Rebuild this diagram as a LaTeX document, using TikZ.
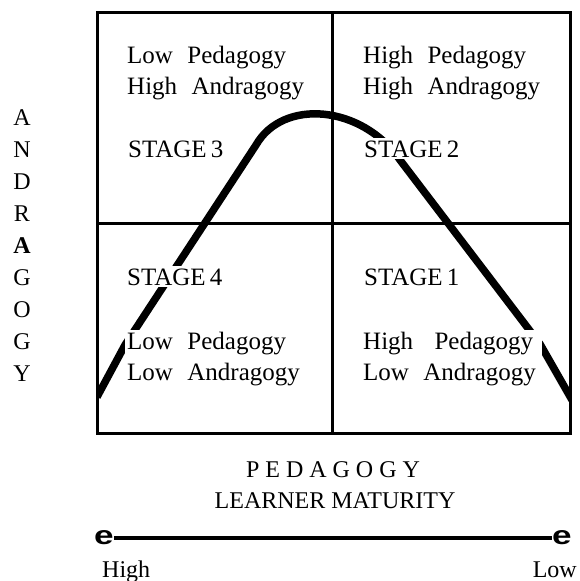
\documentclass[tikz,border=0pt]{standalone}
\usepackage{fontspec}
\setmainfont{Liberation Serif}
\newfontfamily\widefont[WordSpace=2.3]{Liberation Serif}
\newfontfamily\tipfont{Liberation Sans}
\tikzstyle{frame}=[line width=3pt]
\tikzstyle{hump}=[line width=7.5pt]
\tikzstyle{quad}=[anchor=base west,align=left,fill=white,inner sep=2pt,
  font=\widefont\fontsize{25}{31}\selectfont]
\tikzstyle{lbl}=[inner sep=0pt,font=\fontsize{24}{32}\selectfont]
\tikzstyle{tip}=[inner sep=0pt,font=\tipfont\bfseries\fontsize{26}{26}\selectfont]
\tikzstyle{scaleline}=[line width=3.5pt]

\begin{document}
\begin{tikzpicture}[x=1pt,y=-1pt]
  \useasboundingbox (0,0) rectangle (579,581);
  \coordinate (NW) at (97,12);
  \coordinate (SE) at (570,433);
  \coordinate (M) at (332,223);
  % Curve, kept inside the box
  \begin{scope}
    \clip (NW) rectangle (SE);
    \draw[hump] (97,397) -- (125,345) -- (256,145)
      .. controls (283,98) and (362,105) .. (400,160) -- (540,344) -- (572,400);
  \end{scope}
  % Quadrants (base = last line)
  \node[quad] (tl) at (125,94) {Low Pedagogy\\High Andragogy};
  \node[quad] (tr) at (361,94) {High Pedagogy\\High Andragogy};
  \node[quad] (s3) at (126,157) {STAGE\,3};
  \node[quad] (s2) at (362,157) {STAGE\,2};
  \node[quad] (s4) at (125,285) {STAGE\,4};
  \node[quad] (s1) at (362,285) {STAGE\,1};
  \node[quad] (bl) at (125,380) {Low Pedagogy\\Low Andragogy};
  \node[quad,inner xsep=6pt] (br) at (357,380) {High\hspace{7pt} Pedagogy\\Low Andragogy};
  \draw[frame] (NW) rectangle (SE);
  \draw[frame] (NW -| M) -- (SE -| M);
  \draw[frame] (NW |- M) -- (SE |- M);
  % Axis texts
  \node[lbl,align=center,anchor=base] (andra) at (22,381)
    {A\\N\\D\\R\\\textbf{A}\\G\\O\\G\\Y};
  \node[lbl,anchor=base] (peda) at (333,477) {P E D A G O G Y};
  \node[lbl,anchor=base] (matur) at (335,508) {LEARNER MATURITY};
  % Scale
  \node[tip] (eL) at (104,538) {\scalebox{1.35}[1]{e}};
  \node[tip] (eR) at (562,538) {\scalebox{1.35}[1]{e}};
  \draw[scaleline] (eL) -- (eR);
  \node[lbl,anchor=base west] (high) at (102,577) {High};
  \node[lbl,anchor=base east] (low) at (577,577) {Low};
\end{tikzpicture}
\end{document}
